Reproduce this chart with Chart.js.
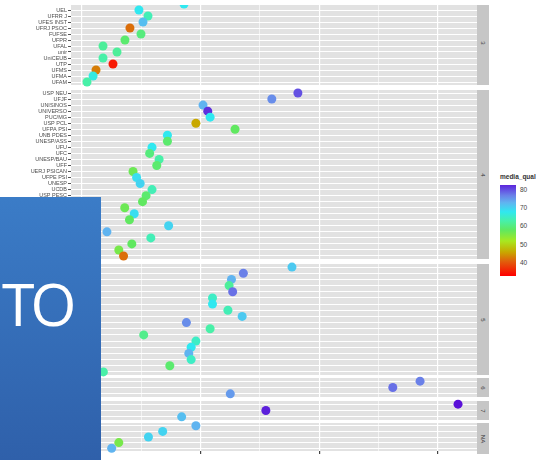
<!DOCTYPE html>
<html>
<head>
<meta charset="utf-8">
<script src="https://cdn.jsdelivr.net/npm/chart.js@4.4.1/dist/chart.umd.min.js"></script>
<style>
body{margin:0;width:544px;height:460px;overflow:hidden;background:#fff;position:relative;font-family:"Liberation Sans",Arial,sans-serif}
.panel{position:absolute;left:0}
.strip{position:absolute;left:477px;width:12px;background:#c6c6c6;color:#333;font-size:6px;display:flex;align-items:center;justify-content:center}
.strip span{transform:rotate(90deg);white-space:nowrap}
#topband{position:absolute;left:0;top:0;width:544px;height:5px;background:#fff;z-index:5}
#box{position:absolute;left:0;top:197px;width:101px;height:263px;background:linear-gradient(#3b7cc7,#2f60aa);z-index:6;overflow:hidden}
#box span{position:absolute;left:2px;top:76px;font-family:"Open Sans",sans-serif;font-size:59px;line-height:60px;color:#fff;letter-spacing:-4px}
#legtitle{position:absolute;left:500px;top:173px;font-size:6.5px;font-weight:bold;color:#333}
#bar{position:absolute;left:500px;top:185px;width:16px;height:91px}
.legtick{position:absolute;left:520px;font-size:6.5px;color:#444;line-height:8px}
</style>
</head>
<body>
<div id="topband"></div>
<div id="box"><span>TO</span></div>
<div id="legtitle">media_qual</div>
<div id="bar"></div>
<script>
// x axis
var xMin = -0.093, xMax = 3.33;
var xTicks = [0, 0.5, 1, 1.5, 2, 2.5, 3];

// colour scale for media_qual
var scaleVals = [33, 41, 46, 52, 58, 63, 68, 73, 77, 81, 84];
var scaleCols = ['#ff0000','#e0600c','#c8a800','#a8e820','#60e860','#48f0a8','#30e8f0','#60b4f0','#6a80e8','#6040e0','#5a10d8'];
var barMin = 32.9, barMax = 82.7;
var legendTicks = [40, 50, 60, 70, 80];

// facets
var facets = ['3', '4', '5', '6', '7', 'NA'];

var p3Labels = ['', 'UEL', 'UFRR J', 'UFES INST', 'UFRJ PSOC', 'FUFSE', 'UFPR', 'UFAL', 'unir', 'UniCEUB', 'UTP', 'UFMS', 'UFMA', 'UFAM'];
var p3X = [0.86, 0.48, 0.556, 0.514, 0.404, 0.497, 0.362, 0.177, 0.295, 0.177, 0.261, 0.118, 0.093, 0.042];
var p3Qual = [68, 68, 64, 72, 42, 60, 59, 62, 62, 63, 35, 43, 67, 63];

var p4Labels = ['USP NEU', 'UFJF', 'UNISINOS', 'UNIVERSO', 'PUC/MG', 'USP PCL', 'UFPA PSI', 'UNB PDES', 'UNESP/ASS', 'UFU', 'UFC', 'UNESP/BAU', 'UFF', 'UERJ PSICAN', 'UFPE PSI', 'UNESP', 'UCDB', 'USP PESC',
  'UFSCAR', 'UFSM', 'UFPB', 'UFES', 'UFRN', 'UFMT', 'UEM', 'UFG', 'UFPEL', 'PUC-GO'];
var p4X = [1.82, 1.60, 1.02, 1.06, 1.08, 0.96, 1.29, 0.72, 0.72, 0.59, 0.57, 0.65, 0.63, 0.43, 0.46, 0.49, 0.59, 0.54,
  0.51, 0.36, 0.44, 0.40, 0.73, 0.21, 0.58, 0.42, 0.31, 0.35];
var p4Qual = [80, 76, 73, 82, 68, 46, 58, 68, 59, 68, 60, 63, 59, 57, 69, 70, 64, 59,
  58, 57, 69, 58, 70, 73, 64, 58, 56, 42];

var p5Labels = ['USP PSA', 'UFMG', 'UFRGS', 'PUC-RS', 'UnB PCL', 'UFSC', 'PUC-SP PCL', 'UFRJ PSICO', 'UERJ PSIC', 'UFPE', 'UFBA', 'UFPA', 'UFRN PSI', 'PUC-CAMP', 'MACKENZIE', 'UNICAP', 'UNIFOR', 'UFSJ'];
var p5X = [1.77, 1.36, 1.26, 1.24, 1.27, 1.10, 1.10, 1.23, 1.35, 0.88, 1.08, 0.52, 0.96, 0.92, 0.90, 0.92, 0.74, 0.18];
var p5Qual = [71, 77, 73, 62, 78, 65, 68, 64, 71, 76, 63, 61, 65, 68, 73, 65, 59, 63];

var p6Labels = ['USP PSI', 'UnB PSTO', 'PUC-RIO'];
var p6X = [2.85, 2.62, 1.25];
var p6Qual = [77, 78, 75];

var p7Labels = ['USP PSE', 'UFRGS PSI', 'PUC-SP'];
var p7X = [3.17, 1.55, 0.84];
var p7Qual = [84, 83, 72];

var pNALabels = ['UFRB', 'UFDPAR', 'UNIVASF', 'UFCA', 'UNILA'];
var pNAX = [0.96, 0.68, 0.56, 0.31, 0.25];
var pNAQual = [73, 70, 70, 56, 73];

function hexToRgb(h){ return [parseInt(h.substr(1,2),16), parseInt(h.substr(3,2),16), parseInt(h.substr(5,2),16)]; }

function qualColor(v){
  if (v <= scaleVals[0]) return scaleCols[0];
  for (var i = 1; i < scaleVals.length; i++) {
    if (v <= scaleVals[i]) {
      var t = (v - scaleVals[i-1]) / (scaleVals[i] - scaleVals[i-1]);
      var a = hexToRgb(scaleCols[i-1]), b = hexToRgb(scaleCols[i]);
      return 'rgb(' + [0,1,2].map(function(k){ return Math.round(a[k] + (b[k]-a[k])*t); }).join(',') + ')';
    }
  }
  return scaleCols[scaleCols.length-1];
}

var panelBg = {
  id: 'panelBg',
  beforeDraw: function(chart){
    var a = chart.chartArea, ctx = chart.ctx;
    ctx.save();
    ctx.fillStyle = '#e2e2e2';
    ctx.fillRect(a.left, a.top, a.right - a.left, a.bottom - a.top);
    ctx.restore();
  }
};

function noPad(s){
  s.paddingTop = 0; s.paddingBottom = 0; s.paddingLeft = 0; s.paddingRight = 0;
}

var PAD = 3;

function makePanel(name, labels, xs, quals, top, height, last){
  var div = document.createElement('div');
  div.className = 'panel';
  div.style.top = (top - PAD) + 'px';
  var cv = document.createElement('canvas');
  cv.width = 477;
  cv.height = height + 2 * PAD + (last ? 4 : 0);
  div.appendChild(cv);
  document.body.appendChild(div);

  var strip = document.createElement('div');
  strip.className = 'strip';
  strip.style.top = top + 'px';
  strip.style.height = height + 'px';
  strip.innerHTML = '<span>' + name + '</span>';
  document.body.appendChild(strip);

  new Chart(cv, {
    type: 'scatter',
    data: {
      datasets: [{
        data: labels.map(function(l, i){ return {x: xs[i], y: l}; }),
        pointRadius: 4.5,
        pointBorderWidth: 0,
        pointBackgroundColor: quals.map(qualColor),
        clip: {left: 5, right: 0, top: PAD, bottom: PAD}
      }]
    },
    options: {
      responsive: false,
      animation: false,
      layout: {padding: {top: PAD, bottom: last ? 0 : PAD, left: 0, right: 0}, autoPadding: false},
      plugins: {legend: {display: false}, tooltip: {enabled: false}},
      scales: {
        x: {
          type: 'linear',
          min: xMin,
          max: xMax,
          afterBuildTicks: function(s){ s.ticks = xTicks.map(function(v){ return {value: v}; }); },
          afterFit: function(s){ s.height = last ? 4 + 2 * PAD : 0; noPad(s); },
          border: {display: false},
          ticks: {display: false},
          grid: {
            color: '#fff',
            lineWidth: function(c){ return c.tick && c.tick.value % 1 === 0 ? 1.2 : 0.6; },
            drawTicks: last,
            tickLength: 3,
            tickColor: function(c){ return c.tick && c.tick.value % 1 === 0 && c.tick.value > 0 ? '#444' : 'rgba(0,0,0,0)'; }
          }
        },
        y: {
          type: 'category',
          labels: labels,
          offset: true,
          afterFit: function(s){ s.width = 71; noPad(s); },
          border: {display: false},
          grid: {color: '#fff', offset: false, lineWidth: 1, tickLength: 3, tickColor: '#555'},
          ticks: {autoSkip: false, padding: 1, color: '#4d4d4d', font: {size: 5.5, family: 'Liberation Sans'}}
        }
      }
    },
    plugins: [panelBg]
  });
}

makePanel(facets[0], p3Labels, p3X, p3Qual, 1, 84, false);
makePanel(facets[1], p4Labels, p4X, p4Qual, 90, 169, false);
makePanel(facets[2], p5Labels, p5X, p5Qual, 264, 111, false);
makePanel(facets[3], p6Labels, p6X, p6Qual, 378, 19, false);
makePanel(facets[4], p7Labels, p7X, p7Qual, 401, 19, false);
makePanel(facets[5], pNALabels, pNAX, pNAQual, 423, 31, true);

// colour bar legend
var stops = [];
for (var i = scaleVals.length - 1; i >= 0; i--) {
  var pct = (barMax - scaleVals[i]) / (barMax - barMin) * 100;
  stops.push(scaleCols[i] + ' ' + pct.toFixed(1) + '%');
}
document.getElementById('bar').style.background = 'linear-gradient(to bottom,' + stops.join(',') + ')';
legendTicks.forEach(function(v){
  var d = document.createElement('div');
  d.className = 'legtick';
  d.style.top = (185 + (barMax - v) / (barMax - barMin) * 91 - 4) + 'px';
  d.textContent = v;
  document.body.appendChild(d);
});
</script>
</body>
</html>
